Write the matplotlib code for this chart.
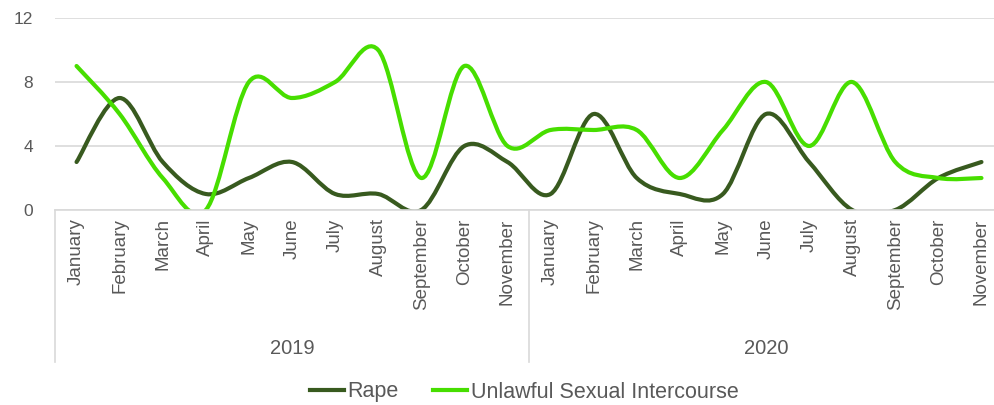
import numpy as np
import matplotlib
matplotlib.use("Agg")
import matplotlib.pyplot as plt
from matplotlib.path import Path
from matplotlib.patches import PathPatch
from matplotlib.lines import Line2D
import matplotlib.transforms as mtransforms

plt.rcParams['font.family'] = ['Liberation Sans', 'DejaVu Sans']

months = ['January', 'February', 'March', 'April', 'May', 'June', 'July',
          'August', 'September', 'October', 'November']
years = ['2019', '2020']
rape = [3, 7, 3, 1, 2, 3, 1, 1, 0, 4, 3,
        1, 6, 2, 1, 1, 6, 3, 0, 0, 2, 3]
unlawful = [9, 6, 2, 0, 8, 7, 8, 10, 2, 9, 4,
            5, 5, 5, 2, 5, 8, 4, 8, 3, 2, 2]

rape_col = '#385a1f'
usi_col = '#47de00'
txt_col = '#595959'
grid_col = '#d9d9d9'


def smooth_path(y):
    # Excel-style smoothed line: cubic Bezier through the points
    x = np.arange(len(y), dtype=float)
    y = np.asarray(y, dtype=float)
    pts = np.column_stack([x, y])
    ext = np.vstack([pts[0], pts, pts[-1]])
    verts = [pts[0]]
    codes = [Path.MOVETO]
    for i in range(len(pts) - 1):
        p0, p1, p2, p3 = ext[i], ext[i + 1], ext[i + 2], ext[i + 3]
        c1 = p1 + (p2 - p0) / 6.0
        c2 = p2 - (p3 - p1) / 6.0
        verts += [c1, c2, p2]
        codes += [Path.CURVE4] * 3
    return Path(verts, codes)


fig = plt.figure(figsize=(9.95, 4.05), dpi=100)
ax = fig.add_axes([55 / 995, (405 - 210) / 405, (1003 - 55) / 995, 192 / 405])

for vals, col in [(rape, rape_col), (unlawful, usi_col)]:
    ax.add_patch(PathPatch(smooth_path(vals), facecolor='none', edgecolor=col,
                           lw=3.0, capstyle='round', joinstyle='round'))

n = len(months) * len(years)
ax.set_xlim(-0.5, n - 0.5)
ax.set_ylim(0, 12)
ax.set_yticks([0, 4, 8, 12])
ax.yaxis.grid(True, color=grid_col, lw=1.2)
ax.set_axisbelow(True)
for s in ['top', 'right', 'left']:
    ax.spines[s].set_visible(False)
ax.spines['bottom'].set_color(grid_col)
ax.spines['bottom'].set_linewidth(1.2)
ax.tick_params(axis='y', length=0, pad=16, labelsize=12.5, labelcolor=txt_col)
ax.set_xticks(range(n))
ax.set_xticklabels(months * len(years), rotation=90, va='top', ha='center')
ax.tick_params(axis='x', length=0, pad=6, labelsize=13.5, labelcolor=txt_col)

# year group labels and separators
trans = mtransforms.blended_transform_factory(ax.transData, ax.transAxes)
for k in range(len(years) + 1):
    xb = k * len(months) - 0.5
    ax.add_line(Line2D([xb, xb], [0, -0.79], transform=trans, color=grid_col,
                       lw=1.2, clip_on=False))
for k, yr in enumerate(years):
    xc = k * len(months) + (len(months) - 1) / 2
    ax.text(xc, -0.72, yr, transform=trans, ha='center', va='center',
            fontsize=14.5, color=txt_col)

handles = [Line2D([], [], color=rape_col, lw=3.0),
           Line2D([], [], color=usi_col, lw=3.0)]
fig.legend(handles, ['Rape', 'Unlawful Sexual Intercourse'], loc='center',
           bbox_to_anchor=(524 / 995, (405 - 392) / 405), ncol=2, frameon=False,
           fontsize=15.5, handlelength=1.6, handletextpad=0.15, columnspacing=1.6,
           labelcolor=txt_col)

fig.savefig('out.png', dpi=100)
